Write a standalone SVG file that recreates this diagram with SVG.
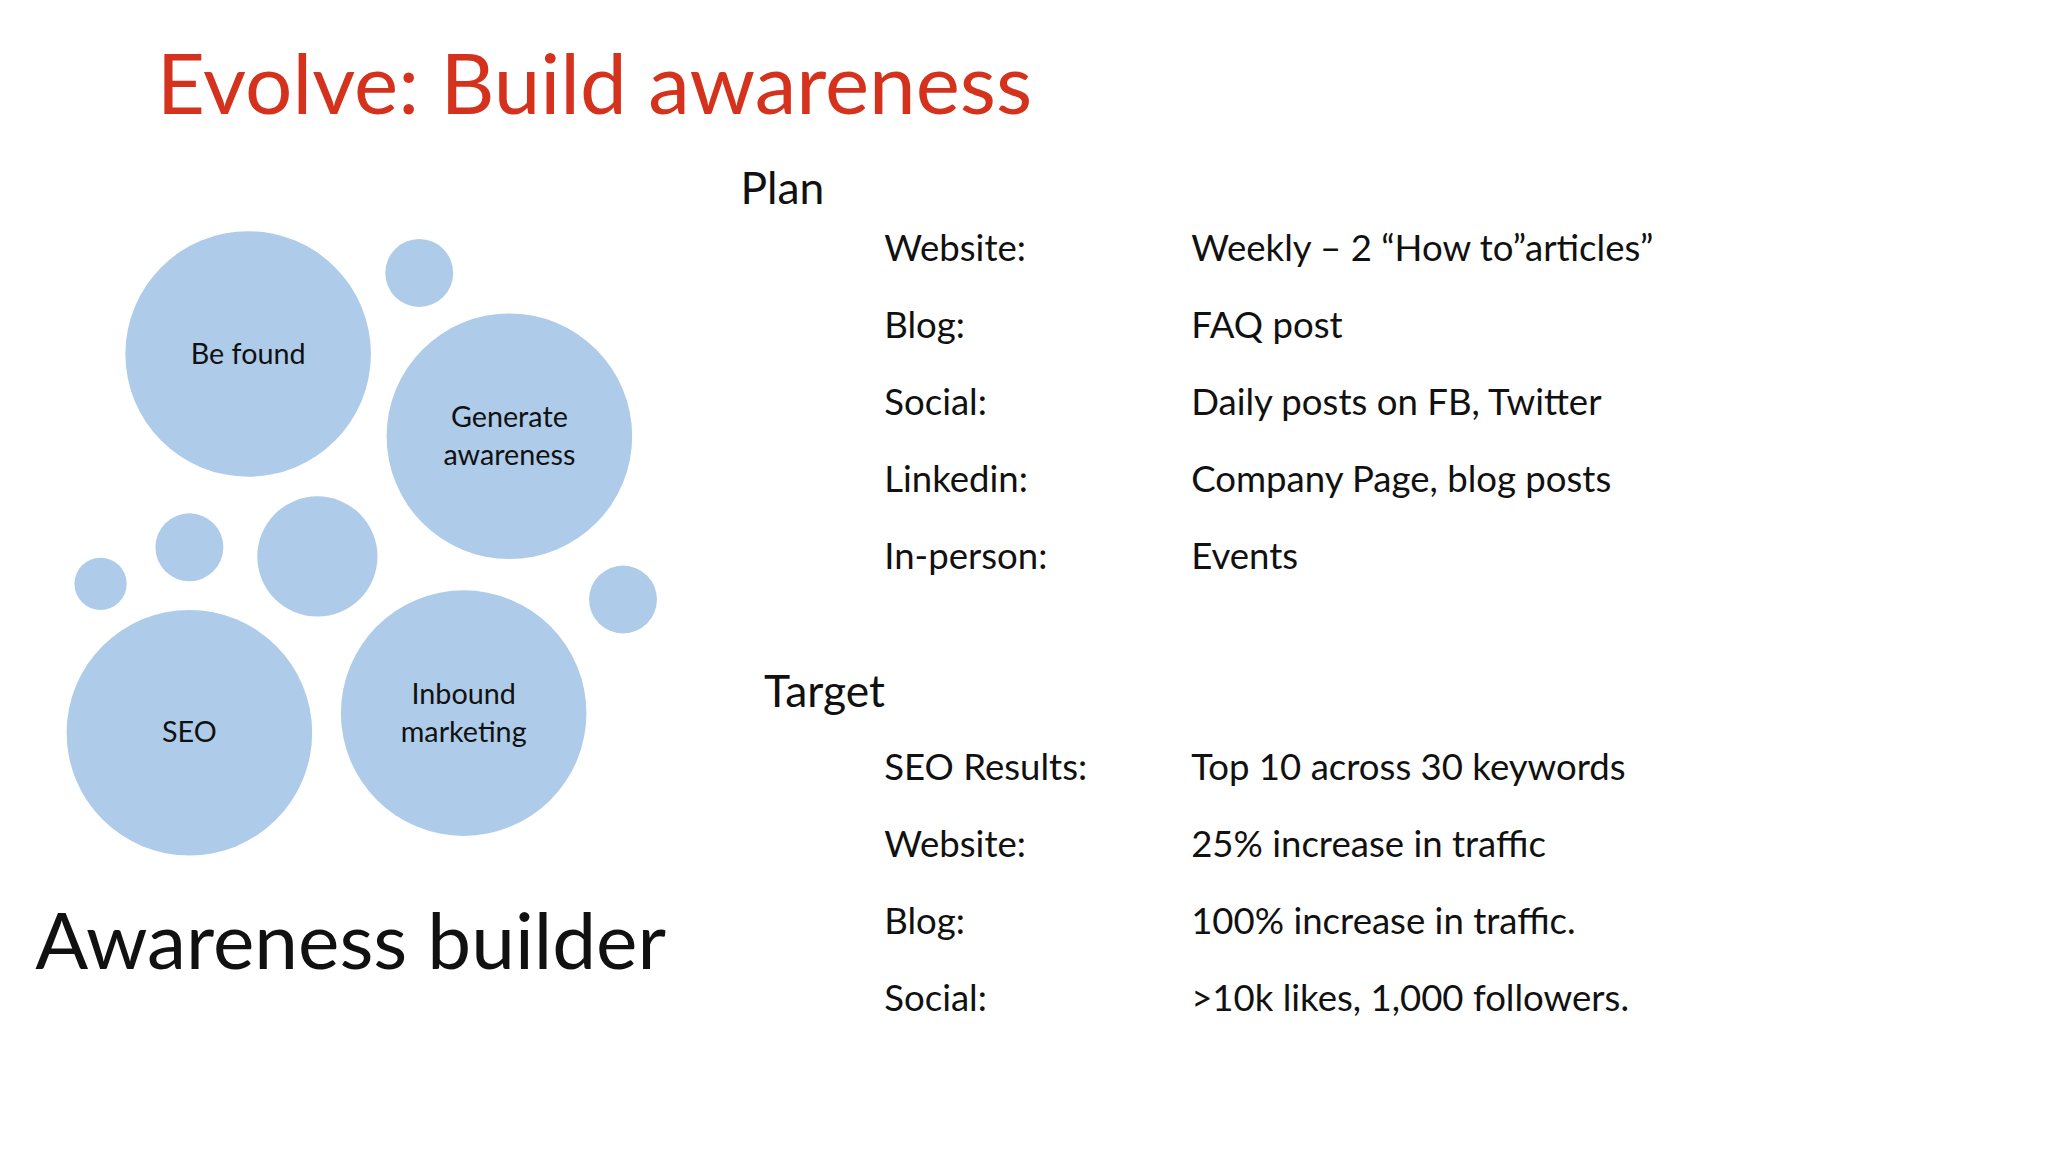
<svg xmlns="http://www.w3.org/2000/svg" width="2048" height="1152" viewBox="0 0 2048 1152">
<style>
text{font-family:Lato,"Open Sans","Liberation Sans",sans-serif;fill:#111}
.c{fill:#aecbe9}
.n{font-size:22px;text-anchor:middle}
.r{font-size:28px}
.h{font-size:34px}
</style>
<rect width="2048" height="1152" fill="#fff"/>
<g transform="scale(1.3061)">
<text x="120" y="87" style="font-size:64px;fill:#d4321c">Evolve:  Build awareness</text>
<g id="bubbles">
<circle class="c" cx="321" cy="209" r="26"/>
<circle class="c" cx="145" cy="419" r="26"/>
<circle class="c" cx="77" cy="447" r="20"/>
<circle class="c" cx="243" cy="426" r="46"/>
<circle class="c" cx="477" cy="459" r="26"/>
</g>
<g id="befound"><circle class="c" cx="190" cy="271" r="94"/><text class="n" x="190" y="279">Be found</text></g>
<g id="generate"><circle class="c" cx="390" cy="334" r="94"/><text class="n" x="390" y="327">Generate</text><text class="n" x="390" y="356">awareness</text></g>
<g id="seo"><circle class="c" cx="145" cy="561" r="94"/><text class="n" x="145" y="568">SEO</text></g>
<g id="inbound"><circle class="c" cx="355" cy="546" r="94"/><text class="n" x="355" y="539">Inbound</text><text class="n" x="355" y="568">marketing</text></g>
<g id="connectors"/>
<text x="27" y="742" style="font-size:60px">Awareness builder</text>
<text class="h" x="567" y="156">Plan</text>
<g class="r">
<text class="r" x="677" y="200">Website:</text><text class="r" x="912" y="200">Weekly – 2 “How to”articles”</text>
<text class="r" x="677" y="259">Blog:</text><text class="r" x="912" y="259">FAQ post</text>
<text class="r" x="677" y="318">Social:</text><text class="r" x="912" y="318">Daily posts on FB, Twitter</text>
<text class="r" x="677" y="377">Linkedin:</text><text class="r" x="912" y="377">Company Page, blog posts</text>
<text class="r" x="677" y="436">In-person:</text><text class="r" x="912" y="436">Events</text>
</g>
<text class="h" x="585" y="541">Target</text>
<text class="r" x="677" y="597">SEO Results:</text><text class="r" x="912" y="597">Top 10 across 30 keywords</text>
<text class="r" x="677" y="656">Website:</text><text class="r" x="912" y="656">25% increase in traffic</text>
<text class="r" x="677" y="715">Blog:</text><text class="r" x="912" y="715">100% increase in traffic.</text>
<text class="r" x="677" y="774">Social:</text><text class="r" x="912" y="774">&gt;10k likes, 1,000 followers.</text>
</g>
</svg>
